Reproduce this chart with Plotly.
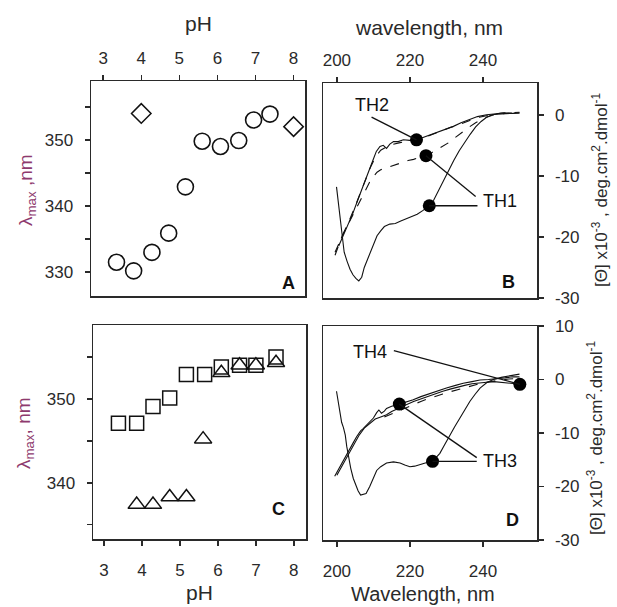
import plotly.graph_objects as go

# ---------------- data ----------------
# Panel A: lambda max vs pH
a_circle_ph = [3.35, 3.8, 4.28, 4.72, 5.16, 5.6, 6.08, 6.56, 6.95, 7.38]
a_circle_lmax = [331.5, 330.2, 333.0, 335.9, 342.9, 349.8, 349.0, 349.9, 353.0, 353.9]
a_diamond_ph = [4.0, 8.0]
a_diamond_lmax = [354.0, 352.0]

# Panel C
c_square_ph = [3.38, 3.86, 4.29, 4.73, 5.17, 5.65, 6.09, 6.57, 7.0, 7.53]
c_square_lmax = [347.1, 347.1, 349.1, 350.1, 352.9, 352.9, 353.8, 354.0, 354.0, 355.0]
c_tri_ph = [3.86, 4.29, 4.73, 5.17, 5.61, 6.09, 6.57, 7.0, 7.53]
c_tri_lmax = [337.4, 337.4, 338.3, 338.3, 345.2, 353.1, 354.0, 354.0, 354.3]

# Panel B: CD spectra
b_th1a_wl = [199.9, 200.6, 201.3, 202.0, 202.8, 203.6, 204.4, 205.2, 206.0, 206.8, 207.5, 208.3,
             209.2, 210.0, 211.0, 212.0, 213.0, 214.5, 216.0, 217.5, 219.0, 220.5, 222.0, 223.5,
             225.3, 226.5, 227.5, 229.0, 230.5, 232.0, 233.5, 235.0, 236.5, 238.0, 239.5, 241.0,
             242.5, 244.0, 246.0, 248.0, 250.0]
b_th1a_val = [-11.8, -15.5, -19.5, -22.5, -24.0, -25.3, -26.2, -26.8, -27.2, -26.6, -25.0, -23.8,
              -22.4, -21.2, -19.8, -19.0, -18.3, -17.9, -17.8, -17.4, -17.0, -16.7, -16.3, -15.7,
              -14.9, -14.0, -12.8, -11.0, -9.3, -7.5, -5.9, -4.5, -3.2, -2.0, -1.1, -0.4,
              0.0, 0.1, 0.2, 0.2, 0.3]
b_th1b_wl = [199.5, 200.5, 201.4, 202.5, 203.7, 205.0, 206.0, 207.0, 208.0, 209.0, 210.0, 211.0,
             212.0, 213.5, 215.0, 216.5, 218.0, 219.5, 221.0, 222.5, 224.4, 226.0, 227.5, 229.0,
             230.5, 232.0, 233.5, 235.0, 236.5, 238.0, 239.5, 241.0, 243.0, 245.0, 247.0, 250.0]
b_th1b_val = [-23.0, -21.5, -19.9, -18.6, -17.2, -15.6, -14.3, -13.1, -12.0, -11.0, -10.1, -9.4,
              -9.0, -8.7, -8.4, -8.0, -7.7, -7.5, -7.3, -7.0, -6.7, -6.2, -5.7, -5.2,
              -4.6, -3.9, -3.2, -2.5, -1.9, -1.3, -0.8, -0.4, 0.0, 0.2, 0.3, 0.3]
b_th2a_wl = [200.5, 201.7, 203.0, 204.4, 205.7, 207.1, 208.5, 209.9, 210.8, 211.8, 212.7, 213.6,
             214.5, 215.5, 216.8, 218.2, 220.0, 221.8, 223.2, 224.6, 226.4, 228.2, 230.0, 231.9,
             234.0, 236.4, 238.5, 241.0, 243.0, 245.6, 248.0, 250.0]
b_th2a_val = [-21.5, -19.9, -18.0, -16.1, -14.0, -11.7, -9.5, -7.4, -6.0, -5.2, -5.0, -5.5,
              -4.8, -4.4, -4.4, -4.1, -4.2, -4.1, -3.8, -3.5, -3.1, -2.7, -2.3, -1.9,
              -1.3, -0.8, -0.3, 0.0, 0.1, 0.3, 0.2, 0.3]
b_th2b_wl = [199.5, 200.8, 202.2, 203.6, 205.0, 206.4, 207.8, 209.2, 210.6, 212.0, 213.5, 215.0,
             217.0, 219.0, 221.0, 223.0, 225.0, 227.0, 229.0, 231.0, 233.0, 235.0, 237.0, 239.0,
             241.0, 243.0, 245.0, 247.5, 250.0]
b_th2b_val = [-22.5, -20.8, -19.0, -17.0, -15.0, -12.8, -10.7, -8.6, -6.9, -5.8, -5.3, -4.9,
              -4.6, -4.4, -4.2, -3.9, -3.5, -3.0, -2.6, -2.1, -1.7, -1.2, -0.8, -0.4,
              -0.1, 0.1, 0.3, 0.4, 0.4]
b_dot_wl = [221.8, 224.4, 225.3]
b_dot_val = [-4.1, -6.7, -14.9]

# Panel D: CD spectra
d_th3a_wl = [199.9, 200.4, 200.9, 201.3, 201.8, 202.3, 202.7, 203.1, 203.8, 204.5, 205.2, 205.8,
             206.5, 207.2, 208.0, 209.0, 210.0, 210.9, 212.0, 213.6, 215.5, 217.3, 218.6, 220.0,
             221.3, 222.7, 224.2, 226.2, 227.2, 228.2, 229.5, 230.9, 232.3, 233.7, 235.0, 236.4,
             237.8, 239.2, 241.0, 242.8, 245.0, 247.5, 250.0]
d_th3a_val = [-2.2, -4.5, -6.6, -8.0, -9.0, -10.4, -12.5, -14.1, -16.6, -18.5, -19.7, -20.8,
              -21.6, -21.4, -21.3, -20.0, -18.4, -17.0, -16.3, -15.6, -15.4, -15.6, -16.0, -16.3,
              -16.2, -15.9, -15.6, -15.3, -14.6, -13.8, -12.2, -10.4, -8.8, -7.2, -5.6, -4.1,
              -2.8, -1.6, -0.6, 0.0, 0.4, 0.7, 1.0]
d_th3b_wl = [199.4, 200.5, 201.5, 202.6, 203.5, 204.5, 205.4, 206.5, 207.2, 208.1, 209.0, 210.0,
             210.9, 211.5, 212.2, 213.0, 213.6, 215.0, 217.1, 219.0, 220.9, 223.0, 225.5, 228.0,
             230.0, 232.5, 234.6, 237.0, 239.2, 241.5, 243.7, 246.0, 248.0, 250.0]
d_th3b_val = [-18.1, -16.8, -15.4, -14.1, -13.0, -11.8, -10.7, -9.6, -9.2, -8.5, -7.9, -7.2,
              -6.2, -5.7, -6.3, -5.9, -5.4, -5.0, -4.6, -4.2, -3.8, -3.2, -2.6, -2.1,
              -1.6, -1.1, -0.7, -0.4, -0.1, 0.0, 0.1, 0.3, 0.5, 0.5]
d_th4_wl = [200.0, 201.5, 203.0, 204.5, 206.0, 207.5, 209.0, 210.5, 212.0, 213.6, 215.0, 217.0,
            219.0, 221.0, 223.0, 225.0, 227.0, 229.0, 231.0, 233.0, 235.0, 237.0, 239.0, 241.0,
            243.0, 245.0, 247.0, 249.0, 250.0]
d_th4_val = [-17.9, -16.0, -14.2, -12.3, -10.5, -9.1, -8.2, -7.4, -7.0, -6.6, -6.0, -5.3,
             -4.7, -4.1, -3.6, -3.1, -2.6, -2.2, -1.8, -1.4, -1.1, -0.8, -0.6, -0.5,
             -0.4, -0.5, -0.7, -0.8, -0.9]
d_extra_wl = [213.0, 215.0, 217.0, 219.0, 221.0, 223.0, 225.0, 227.0, 229.0, 231.0, 233.0, 235.0,
              237.0, 239.0, 241.0, 243.0, 245.0, 247.0, 250.0]
d_extra_val = [-7.0, -6.4, -5.8, -5.2, -4.6, -4.1, -3.6, -3.1, -2.7, -2.3, -1.9, -1.5,
               -1.1, -0.8, -0.5, -0.3, -0.1, 0.1, 0.2]
d_dot_wl = [217.1, 226.2, 250.1]
d_dot_val = [-4.6, -15.3, -0.9]

ph_ticks = [3, 4, 5, 6, 7, 8]
wl_ticks = [200, 220, 240]
b_yticks = [0, -10, -20, -30]
d_yticks = [10, 0, -10, -20, -30]

# ---------------- styling ----------------
FONT = "Liberation Sans, Arial, sans-serif"
INK = "#2a2a2a"
TITLE_PINK = "#8e3a6e"
W, H = 617, 607


def px(x):
    return x / W


def py(y):
    return 1 - y / H


fig = go.Figure()

# Panel A
fig.add_trace(go.Scatter(x=a_circle_ph, y=a_circle_lmax, mode="markers", xaxis="x", yaxis="y",
                         marker=dict(symbol="circle-open", size=16, color="#111", line=dict(width=1.6))))
fig.add_trace(go.Scatter(x=a_diamond_ph, y=a_diamond_lmax, mode="markers", xaxis="x", yaxis="y",
                         marker=dict(symbol="diamond-open", size=15, color="#111", line=dict(width=1.5))))
# Panel C
fig.add_trace(go.Scatter(x=c_square_ph, y=c_square_lmax, mode="markers", xaxis="x3", yaxis="y3",
                         marker=dict(symbol="square-open", size=14, color="#111", line=dict(width=1.5))))
fig.add_trace(go.Scatter(x=c_tri_ph, y=c_tri_lmax, mode="markers", xaxis="x3", yaxis="y3",
                         marker=dict(symbol="triangle-up-open", size=15, color="#111", line=dict(width=1.5))))

# Panel B
for wl, val, dash in [(b_th1a_wl, b_th1a_val, "solid"), (b_th1b_wl, b_th1b_val, "dash"),
                      (b_th2a_wl, b_th2a_val, "solid"), (b_th2b_wl, b_th2b_val, "dash")]:
    fig.add_trace(go.Scatter(x=wl, y=val, mode="lines", xaxis="x2", yaxis="y2",
                             line=dict(color="#111", width=1.1, dash=dash)))
fig.add_trace(go.Scatter(x=b_dot_wl, y=b_dot_val, mode="markers", xaxis="x2", yaxis="y2",
                         marker=dict(symbol="circle", size=13, color="#000")))
# Panel D
for wl, val, dash in [(d_th3a_wl, d_th3a_val, "solid"), (d_th3b_wl, d_th3b_val, "solid"),
                      (d_th4_wl, d_th4_val, "solid"), (d_extra_wl, d_extra_val, "dash")]:
    fig.add_trace(go.Scatter(x=wl, y=val, mode="lines", xaxis="x4", yaxis="y4",
                             line=dict(color="#111", width=1.1, dash=dash)))
fig.add_trace(go.Scatter(x=d_dot_wl, y=d_dot_val, mode="markers", xaxis="x4", yaxis="y4",
                         marker=dict(symbol="circle", size=13, color="#000")))

# leader lines (annotation pointers)
leaders = [
    ("x2", "y2", 209.5, -0.4, b_dot_wl[0], b_dot_val[0]),
    ("x2", "y2", 238.0, -13.4, b_dot_wl[1], b_dot_val[1]),
    ("x2", "y2", 238.5, -14.9, b_dot_wl[2], b_dot_val[2]),
    ("x4", "y4", 215.6, 5.4, d_dot_wl[2], d_dot_val[2]),
    ("x4", "y4", 238.3, -14.6, d_dot_wl[0], d_dot_val[0]),
    ("x4", "y4", 238.3, -15.3, d_dot_wl[1], d_dot_val[1]),
]
for xr, yr, x0, y0, x1, y1 in leaders:
    fig.add_shape(type="line", xref=xr, yref=yr, x0=x0, y0=y0, x1=x1, y1=y1,
                  line=dict(color="#111", width=1.3))

axis_common = dict(showline=True, linecolor=INK, linewidth=1.5, mirror=True, showgrid=False,
                   zeroline=False, ticks="outside", ticklen=5, tickwidth=1.5, tickcolor=INK,
                   automargin=False,
                   tickfont=dict(family=FONT, size=17, color=INK))

dA_x = [px(91), px(305)]
dA_y = [py(296), py(81)]
dB_x = [px(323), px(537)]
dB_y = [py(298), py(83)]
dC_x = [px(93), px(306)]
dC_y = [py(539), py(325)]
dD_x = [px(323), px(537)]
dD_y = [py(540), py(326)]

minor = dict(ticks="outside", ticklen=5, tickwidth=1.5, tickcolor=INK, dtick=5, tick0=0, showgrid=False)

fig.update_layout(
    width=W, height=H, margin=dict(l=0, r=0, t=0, b=0, autoexpand=False),
    paper_bgcolor="white", plot_bgcolor="white", showlegend=False,
    font=dict(family=FONT, color=INK),
    xaxis=dict(axis_common, domain=dA_x, anchor="y", side="top", range=[2.68, 8.3],
               tickvals=ph_ticks, ticklabelstandoff=4),
    yaxis=dict(axis_common, domain=dA_y, anchor="x", range=[326.4, 358.9],
               tickmode="linear", tick0=0, dtick=10, minor=minor, ticklabelstandoff=8),
    xaxis2=dict(axis_common, domain=dB_x, anchor="y2", side="top", range=[196.2, 254.8],
                tickvals=wl_ticks, ticklabelstandoff=4),
    yaxis2=dict(axis_common, domain=dB_y, anchor="x2", side="right", range=[-30, 5.2],
                tickvals=b_yticks, ticktext=[str(v) for v in b_yticks], ticklabelstandoff=8),
    xaxis3=dict(axis_common, domain=dC_x, anchor="y3", side="bottom", range=[2.71, 8.32],
                tickvals=ph_ticks, ticklabelstandoff=10),
    yaxis3=dict(axis_common, domain=dC_y, anchor="x3", range=[333.3, 358.8],
                tickmode="linear", tick0=0, dtick=10, minor=minor, ticklabelstandoff=8),
    xaxis4=dict(axis_common, domain=dD_x, anchor="y4", side="bottom", range=[196.2, 254.8],
                tickvals=wl_ticks, ticklabelstandoff=10),
    yaxis4=dict(axis_common, domain=dD_y, anchor="x4", side="right", range=[-30, 10],
                tickvals=d_yticks, ticktext=[str(v) for v in d_yticks], ticklabelstandoff=8),
)


def paper_text(text, x, y, size, color=INK, angle=0):
    return dict(text=text, x=px(x), y=py(y), xref="paper", yref="paper", showarrow=False,
                xanchor="center", yanchor="middle", textangle=angle,
                font=dict(family=FONT, size=size, color=color))


ann = []
ann.append(paper_text("pH", 198, 23, 21))
ann.append(paper_text("wavelength, nm", 429, 27, 21))
ann.append(paper_text("pH", 199, 592, 21))
ann.append(paper_text("Wavelength, nm", 423, 594, 20))
ann.append(paper_text("λ<sub>max</sub> ,nm", 27, 190, 19, TITLE_PINK, -90))
ann.append(paper_text("λ<sub>max</sub>, nm", 25, 433, 19, TITLE_PINK, -90))
theta_title = "[Θ] x10<sup>-3</sup> , deg.cm<sup>2</sup>.dmol<sup>-1</sup>"
ann.append(paper_text(theta_title, 600, 190, 17, INK, -90))
ann.append(paper_text(theta_title, 595, 438, 17, INK, -90))
for letter, lx, ly in [("A", 288, 283), ("B", 508, 282), ("C", 278, 509), ("D", 512, 520)]:
    ann.append(paper_text(f"<b>{letter}</b>", lx, ly, 18, "#111"))


def data_text(text, x, y, xr, yr):
    return dict(text=text, x=x, y=y, xref=xr, yref=yr, showarrow=False,
                xanchor="center", yanchor="middle",
                font=dict(family=FONT, size=18, color="#111"))


ann.append(data_text("TH2", 209.5, 1.6, "x2", "y2"))
ann.append(data_text("TH1", 244.7, -14.2, "x2", "y2"))
ann.append(data_text("TH4", 209.0, 5.2, "x4", "y4"))
ann.append(data_text("TH3", 244.7, -15.3, "x4", "y4"))
fig.update_layout(annotations=ann)

fig.write_html("out.html", config={"displayModeBar": False, "staticPlot": True},
               post_script="document.body.style.margin='0';")
